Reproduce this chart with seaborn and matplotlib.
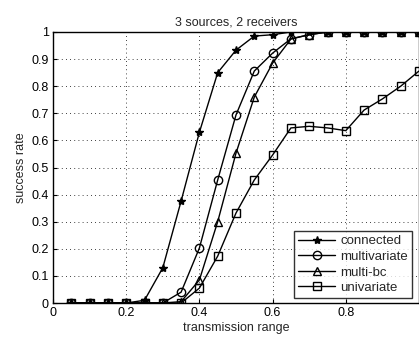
import numpy as np
import pandas as pd
import matplotlib
matplotlib.use("Agg")
import matplotlib.pyplot as plt
import seaborn as sns

x = [0.05, 0.10, 0.15, 0.20, 0.25, 0.30, 0.35, 0.40, 0.45, 0.50,
     0.55, 0.60, 0.65, 0.70, 0.75, 0.80, 0.85, 0.90, 0.95, 1.00]
connected = [0, 0, 0, 0, 0.01, 0.13, 0.376, 0.63, 0.85, 0.933,
             0.985, 0.99, 1.0, 1.0, 1.0, 1.0, 1.0, 1.0, 1.0, 1.0]
multivariate = [0, 0, 0, 0, 0, 0, 0.04, 0.203, 0.454, 0.694,
                0.856, 0.922, 0.975, 0.99, 1.0, 1.0, 1.0, 1.0, 1.0, 1.0]
multi_bc = [0, 0, 0, 0, 0, 0, 0.005, 0.085, 0.30, 0.553,
            0.76, 0.885, 0.974, 0.99, 1.0, 1.0, 1.0, 1.0, 1.0, 1.0]
univariate = [0, 0, 0, 0, 0, 0, 0, 0.055, 0.173, 0.332,
              0.454, 0.546, 0.646, 0.652, 0.646, 0.636, 0.712, 0.753, 0.80, 0.856]

series_names = ["connected", "multivariate", "multi-bc", "univariate"]
series_vals = [connected, multivariate, multi_bc, univariate]
markers = {"connected": "*", "multivariate": "o", "multi-bc": "^", "univariate": "s"}
x_ticks = [0, 0.2, 0.4, 0.6, 0.8]
x_tick_labels = ["0", "0.2", "0.4", "0.6", "0.8"]
y_ticks = [0, 0.1, 0.2, 0.3, 0.4, 0.5, 0.6, 0.7, 0.8, 0.9, 1.0]
y_tick_labels = ["0", "0.1", "0.2", "0.3", "0.4", "0.5", "0.6", "0.7", "0.8", "0.9", "1"]

df = pd.DataFrame({
    "transmission range": np.tile(x, len(series_names)),
    "success rate": np.concatenate(series_vals),
    "series": np.repeat(series_names, len(x)),
})

sns.set_style("ticks")
plt.rcParams["font.family"] = ["Liberation Sans", "DejaVu Sans"]
plt.rcParams["font.size"] = 9

fig = plt.figure(figsize=(4.19, 3.40), dpi=100)
ax = fig.add_axes([53/419, 1 - 303/340, 366/419, (303 - 32)/340])

palette = {n: "black" for n in series_names}
sns.lineplot(data=df, x="transmission range", y="success rate", hue="series",
             style="series", markers=markers, dashes=False, palette=palette,
             hue_order=series_names, style_order=series_names,
             ax=ax, linewidth=1.0, markersize=6, markerfacecolor="none",
             markeredgecolor="black", markeredgewidth=1.0)

for line in ax.get_lines():
    if line.get_marker() == "*":
        line.set_markerfacecolor("black")
        line.set_markersize(6)

ax.set_xlim(0, 1)
ax.set_ylim(0, 1)
ax.set_xticks(x_ticks)
ax.set_xticklabels(x_tick_labels)
ax.set_yticks(y_ticks)
ax.set_yticklabels(y_tick_labels)
ax.grid(True, linestyle=(0, (1, 4)), color="black", linewidth=0.6)
ax.tick_params(direction="in", length=3, labelsize=9, colors="black", pad=3)
for s in ax.spines.values():
    s.set_color("black")
    s.set_linewidth(1.0)
    s.set_visible(True)

ax.set_title("3 sources, 2 receivers", fontsize=9, pad=5)
ax.set_xlabel("transmission range", fontsize=9, labelpad=2)
ax.set_ylabel("success rate", fontsize=9, labelpad=3)

handles, labels = ax.get_legend_handles_labels()
for h in handles:
    h.set_color("black")
leg = ax.legend(handles, labels, loc="lower right", frameon=True, fancybox=False,
                edgecolor="black", fontsize=9.5, borderpad=0.3, labelspacing=0.25,
                handlelength=2.8, handletextpad=0.4, borderaxespad=0)
leg.set_bbox_to_anchor((412/419, (340 - 298)/340), transform=fig.transFigure)
leg.get_frame().set_linewidth(1.0)

fig.savefig("out.png", dpi=100)
